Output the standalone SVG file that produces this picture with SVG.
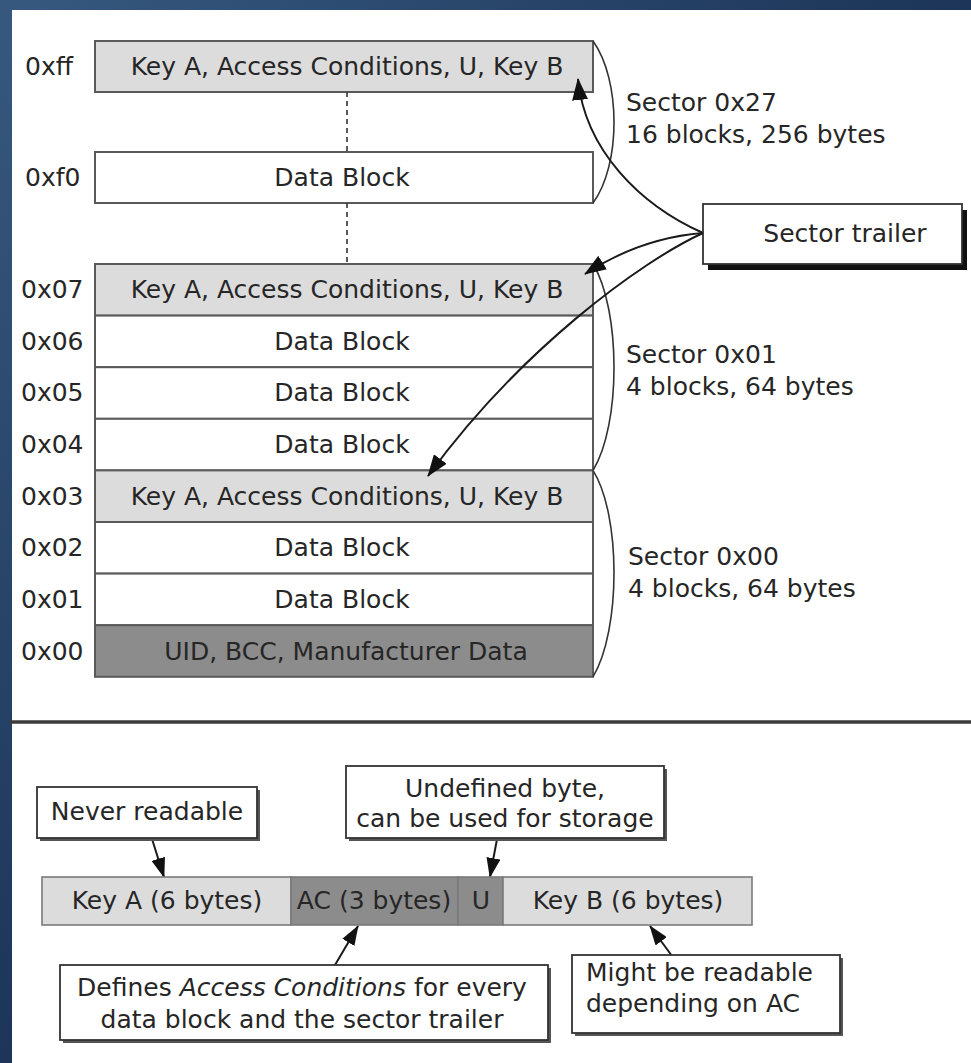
<svg xmlns="http://www.w3.org/2000/svg" width="971" height="1063" viewBox="0 0 971 1063">
<defs>
<linearGradient id="bg" x1="0" y1="0" x2="1" y2="1">
<stop offset="0" stop-color="#37597f"/>
<stop offset="0.5" stop-color="#1c3558"/>
<stop offset="1" stop-color="#0b1a33"/>
</linearGradient>
<marker id="ah" viewBox="0 0 22 16" refX="21" refY="8" markerWidth="22" markerHeight="16" markerUnits="userSpaceOnUse" orient="auto">
<path d="M0,0 L22,8 L0,16 Z" fill="#111"/>
</marker>
<marker id="ahs" viewBox="0 0 20 14" refX="19" refY="7" markerWidth="20" markerHeight="14" markerUnits="userSpaceOnUse" orient="auto">
<path d="M0,0 L20,7 L0,14 Z" fill="#111"/>
</marker>
</defs>
<style>
text{font-family:"DejaVu Sans","Liberation Sans",sans-serif;font-size:25px;fill:#262626}
.c{text-anchor:middle}
.blk{stroke:#5a5a5a;stroke-width:2}
.lt{fill:#dcdcdc}
.wh{fill:#ffffff}
.dk{fill:#8c8c8c}
.brace{fill:none;stroke:#333;stroke-width:1.6}
.arr{fill:none;stroke:#1a1a1a;stroke-width:2}
.box{fill:#fff;stroke:#333;stroke-width:1.8}
.shd{fill:#555}
.bar{stroke:#7a7a7a;stroke-width:1.6}
</style>
<rect x="0" y="0" width="971" height="1063" fill="url(#bg)"/>
<rect x="12" y="10" width="959" height="1053" fill="#fff"/>

<g id="labels">
<text x="25" y="75">0xff</text>
<text x="25" y="186">0xf0</text>
<text x="21" y="298">0x07</text>
<text x="21" y="350">0x06</text>
<text x="21" y="401">0x05</text>
<text x="21" y="453">0x04</text>
<text x="21" y="505">0x03</text>
<text x="21" y="556">0x02</text>
<text x="21" y="608">0x01</text>
<text x="21" y="660">0x00</text>
</g>

<g id="block-0xff"><rect class="blk lt" x="95" y="41" width="498" height="51"/><text class="c" x="347" y="75">Key A, Access Conditions, U, Key B</text></g>
<g id="block-0xf0"><rect class="blk wh" x="95" y="152" width="498" height="51"/><text class="c" x="342" y="186">Data Block</text></g>
<g id="block-0x07"><rect class="blk lt" x="95" y="264" width="498" height="51.6"/><text class="c" x="347" y="298">Key A, Access Conditions, U, Key B</text></g>
<g id="block-0x06"><rect class="blk wh" x="95" y="315.6" width="498" height="51.6"/><text class="c" x="342" y="350">Data Block</text></g>
<g id="block-0x05"><rect class="blk wh" x="95" y="367.2" width="498" height="51.6"/><text class="c" x="342" y="401">Data Block</text></g>
<g id="block-0x04"><rect class="blk wh" x="95" y="418.8" width="498" height="51.6"/><text class="c" x="342" y="453">Data Block</text></g>
<g id="block-0x03"><rect class="blk lt" x="95" y="470.4" width="498" height="51.6"/><text class="c" x="347" y="505">Key A, Access Conditions, U, Key B</text></g>
<g id="block-0x02"><rect class="blk wh" x="95" y="522" width="498" height="51.6"/><text class="c" x="342" y="556">Data Block</text></g>
<g id="block-0x01"><rect class="blk wh" x="95" y="573.6" width="498" height="51.6"/><text class="c" x="342" y="608">Data Block</text></g>
<g id="block-0x00"><rect class="blk dk" x="95" y="625.2" width="498" height="51.6"/><text class="c" x="346" y="660">UID, BCC, Manufacturer Data</text></g>

<g id="sector-labels">
<text x="626" y="111">Sector 0x27</text>
<text x="626" y="143">16 blocks, 256 bytes</text>
<text x="626" y="363">Sector 0x01</text>
<text x="626" y="395">4 blocks, 64 bytes</text>
<text x="628" y="565">Sector 0x00</text>
<text x="628" y="597">4 blocks, 64 bytes</text>
</g>

<g id="sector-trailer">
<rect x="708" y="210" width="259" height="60" fill="#111"/>
<rect class="box" x="703" y="204" width="259" height="60"/>
<text class="c" x="845" y="242">Sector trailer</text>
</g>

<g id="connectors">
<line x1="347" y1="92" x2="347" y2="152" stroke="#333" stroke-width="1.6" stroke-dasharray="5,4"/>
<line x1="347" y1="203" x2="347" y2="264" stroke="#333" stroke-width="1.6" stroke-dasharray="5,4"/>
<path class="brace" d="M593,41 C621,80 621,165 593,203"/>
<path class="brace" d="M593,264 C621,310 621,425 593,470.4"/>
<path class="brace" d="M593,470.4 C621,515 621,630 593,676.8"/>
<path class="arr" d="M703,233 C640,205 585,150 578,79" marker-end="url(#ah)"/>
<path class="arr" d="M703,233 C665,236 625,248 585,274" marker-end="url(#ah)"/>
<path class="arr" d="M703,233 C640,262 520,350 428,476" marker-end="url(#ah)"/>
<path class="arr" d="M152,839 L164,877" marker-end="url(#ahs)"/>
<path class="arr" d="M497,839 L490,877" marker-end="url(#ahs)"/>
<path class="arr" d="M335,965 L358,926" marker-end="url(#ahs)"/>
<path class="arr" d="M672,956 L650,926" marker-end="url(#ahs)"/>
</g>

<line x1="10" y1="722" x2="971" y2="722" stroke="#3a3a3a" stroke-width="3.5"/>

<g id="never-readable">
<rect class="shd" x="40" y="790" width="220" height="51"/>
<rect class="box" x="37" y="787" width="220" height="51"/>
<text class="c" x="147" y="820">Never readable</text>
</g>
<g id="undefined-byte">
<rect class="shd" x="349" y="769" width="318" height="72"/>
<rect class="box" x="346" y="766" width="318" height="72"/>
<text class="c" x="505" y="797">Undefined byte,</text>
<text class="c" x="505" y="827">can be used for storage</text>
</g>

<g id="trailer-bar">
<rect class="bar lt" x="42" y="877" width="249" height="48"/>
<rect class="bar dk" x="291" y="877" width="167" height="48"/>
<rect class="bar dk" x="458" y="877" width="45" height="48"/>
<rect class="bar lt" x="503" y="877" width="249" height="48"/>
<text class="c" x="167" y="909">Key A (6 bytes)</text>
<text class="c" x="374" y="909">AC (3 bytes)</text>
<text class="c" x="481" y="909">U</text>
<text class="c" x="628" y="909">Key B (6 bytes)</text>
</g>

<g id="defines-ac">
<rect class="shd" x="63" y="968" width="488" height="75"/>
<rect class="box" x="60" y="965" width="488" height="75"/>
<text class="c" x="302" y="996">Defines <tspan font-style="italic">Access Conditions</tspan> for every</text>
<text class="c" x="302" y="1028">data block and the sector trailer</text>
</g>
<g id="might-readable">
<rect class="shd" x="575" y="958" width="268" height="78"/>
<rect class="box" x="572" y="955" width="268" height="78"/>
<text x="586" y="981">Might be readable</text>
<text x="586" y="1012">depending on AC</text>
</g>
</svg>
